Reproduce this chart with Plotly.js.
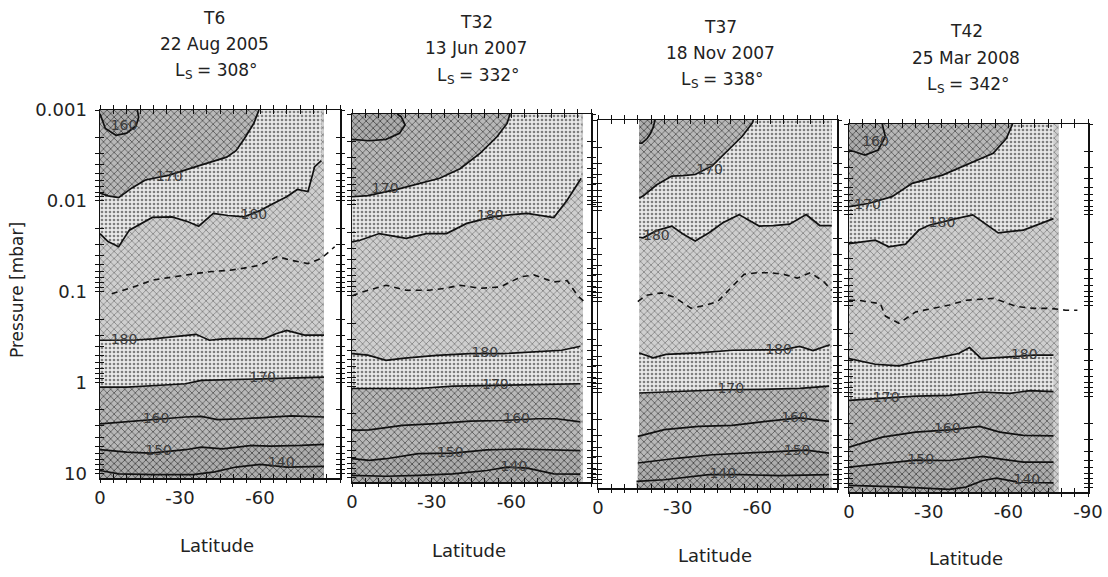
<!DOCTYPE html>
<html><head><meta charset="utf-8">
<script src="https://cdn.plot.ly/plotly-3.0.1.min.js"></script>
<style>html,body{margin:0;padding:0;background:#fff}</style>
</head><body><div id="chart" style="width:1108px;height:577px"></div>
<script>
// ---------------- DATA ----------------
const panelNames = ['T6', 'T32', 'T37', 'T42'];
const panelDates = ['22 Aug 2005', '13 Jun 2007', '18 Nov 2007', '25 Mar 2008'];
const panelLs = [308, 332, 338, 342];
const latTickLabels = [0, -30, -60, -90];
const pressureTickLabels = [0.001, 0.01, 0.1, 1, 10];
const dataLatExtent = [[0, -84], [0, -87], [-15.5, -88], [0, -79]];

// isotherms: [latitude (deg), pressure (mbar)]
const T6_loop160 = [[0,0.0011],[-2,0.0016],[-6,0.0019],[-10,0.0018],[-13.5,0.0015],[-14.5,0.0012],[-14,0.001]];
const T6_up170 = [[0,0.0082],[-3,0.0088],[-7,0.0092],[-12,0.0072],[-17,0.0059],[-26,0.0052],[-36,0.0042],[-47.5,0.0033],[-51,0.0028],[-54,0.0021],[-57.7,0.0014],[-59.6,0.001]];
const T6_up180 = [[0,0.023],[-3,0.028],[-7,0.032],[-11,0.021],[-19.6,0.0152],[-27,0.015],[-33,0.017],[-37,0.019],[-42.5,0.0137],[-48,0.0145],[-54,0.015],[-60,0.0128],[-65,0.0107],[-70,0.009],[-74,0.0075],[-78,0.0079],[-80.5,0.0042],[-83,0.0036]];
const T6_dash190 = [[-4.4,0.105],[-12,0.09],[-19.6,0.0746],[-28,0.068],[-36,0.063],[-42,0.06],[-48.8,0.058],[-54,0.055],[-60,0.051],[-66.5,0.041],[-71.6,0.045],[-78,0.049],[-83,0.043],[-88,0.032]];
const T6_low180 = [[0,0.342],[-13,0.34],[-20,0.33],[-27,0.315],[-33,0.3],[-36,0.294],[-41,0.342],[-46,0.33],[-51,0.327],[-61.5,0.33],[-66,0.29],[-70,0.266],[-76.7,0.3],[-84,0.3]];
const T6_low170 = [[0,1.12],[-10,1.12],[-22.6,1.07],[-32,1.03],[-38,0.944],[-51,0.93],[-63.6,0.906],[-84,0.87]];
const T6_low160 = [[0,2.84],[-10,2.7],[-22.6,2.49],[-32,2.39],[-38,2.35],[-44,2.56],[-53,2.5],[-64,2.39],[-72,2.33],[-84,2.39]];
const T6_low150 = [[0,5.48],[-10,5.83],[-19,5.98],[-32,5.48],[-38,5.13],[-46,5.36],[-57,4.92],[-64,5.0],[-75.5,4.92],[-84,4.79]];
const T6_low140 = [[0,9.27],[-7,10.1],[-20,10.3],[-35,10.3],[-43,9.6],[-51,8.5],[-60,7.94],[-70,8.5],[-84,8.37]];
const T6_labels = [[-9,0.0015,'160'],[-26,0.0055,'170'],[-57.7,0.0145,'180'],[-9,0.34,'180'],[-61,0.9,'170'],[-21,2.55,'160'],[-22,5.7,'150'],[-68,7.7,'140']];

const T32_loop160 = [[0,0.0019],[-6.5,0.00197],[-12.8,0.0019],[-17.9,0.00163],[-20,0.00132],[-18.5,0.00107],[-17,0.001]];
const T32_up170 = [[0,0.00814],[-6,0.0079],[-16.6,0.0068],[-25.5,0.0058],[-33,0.0051],[-40.7,0.004],[-48.3,0.0027],[-54.6,0.00178],[-58.4,0.00127],[-59.5,0.001]];
const T32_up180 = [[0,0.0255],[-3,0.0245],[-10.3,0.0207],[-15,0.022],[-20.4,0.0234],[-28,0.0207],[-35.6,0.0207],[-43.2,0.016],[-53.4,0.0135],[-60,0.0128],[-66,0.0124],[-76,0.0138],[-81,0.0089],[-86.3,0.0051]];
const T32_dash190 = [[0,0.1],[-3.9,0.091],[-12.8,0.0766],[-20.4,0.087],[-29,0.087],[-35,0.083],[-40.7,0.0766],[-48.3,0.083],[-55.9,0.08],[-63.5,0.062],[-68.5,0.059],[-76,0.0705],[-81,0.068],[-85,0.1],[-88,0.12]];
const T32_low180 = [[0,0.434],[-6,0.45],[-12.8,0.514],[-19,0.49],[-31.8,0.453],[-44.5,0.434],[-57,0.434],[-69.8,0.416],[-79,0.398],[-86,0.36]];
const T32_low170 = [[0,1.05],[-12.8,1.05],[-25,1.05],[-38,0.99],[-57,0.97],[-70,0.96],[-86,0.93]];
const T32_low160 = [[0,3.03],[-6.5,3.0],[-19,2.67],[-31.8,2.56],[-44.5,2.4],[-57,2.36],[-69.8,2.26],[-77,2.26],[-86,2.45]];
const T32_low150 = [[0,6.22],[-6.5,6.5],[-12.8,6.22],[-25,5.48],[-38,5.4],[-50.8,4.96],[-63.5,4.86],[-76,4.96],[-86,5.06]];
const T32_low140 = [[0,9.5],[-12.8,9.7],[-25,9.5],[-38,9.12],[-50.8,8.38],[-58.4,7.7],[-66,7.9],[-76,9.12],[-86,9.2]];
const T32_labels = [[-12.5,0.0068,'170'],[-52,0.0135,'180'],[-50,0.43,'180'],[-54,0.97,'170'],[-62,2.3,'160'],[-37,5.4,'150'],[-61,7.7,'140']];

const T37_loop160 = [[-21.5,0.001],[-20.8,0.0012],[-19.8,0.0014],[-18.5,0.0016],[-16.5,0.0018],[-15.5,0.0018]];
const T37_up170 = [[-15.5,0.0072],[-17,0.00687],[-22,0.0052],[-27.8,0.00414],[-32,0.0041],[-36.6,0.00398],[-43,0.0032],[-49.3,0.0021],[-54.4,0.0015],[-58.2,0.00107],[-58.5,0.001]];
const T37_up180 = [[-15.5,0.0195],[-17,0.0198],[-22,0.0165],[-27.8,0.0147],[-32,0.018],[-36.6,0.0215],[-41.8,0.0174],[-47,0.0135],[-53.1,0.011],[-60.7,0.0147],[-66,0.0145],[-72.1,0.014],[-78.4,0.011],[-83.5,0.0145],[-88,0.0145]];
const T37_dash190 = [[-15,0.1],[-18,0.085],[-24,0.08],[-29,0.09],[-35,0.118],[-40,0.11],[-45,0.1],[-50,0.07],[-55,0.05],[-60,0.048],[-65,0.048],[-70,0.05],[-75,0.055],[-80,0.048],[-85,0.06],[-88,0.075]];
const T37_low180 = [[-15.5,0.366],[-20.8,0.415],[-25.6,0.38],[-37.9,0.366],[-50.6,0.342],[-62,0.337],[-70,0.337],[-75.9,0.31],[-81,0.345],[-87.3,0.297]];
const T37_low170 = [[-15.5,1.01],[-30,0.98],[-46.8,0.93],[-62,0.92],[-76,0.9],[-87,0.85]];
const T37_low160 = [[-15,3.03],[-25,2.56],[-37.9,2.35],[-50.6,2.3],[-63.2,2.07],[-75.9,1.9],[-87,2.07]];
const T37_low150 = [[-15,5.96],[-30.4,5.25],[-43,4.83],[-55.7,4.63],[-68.4,4.43],[-78.5,4.3],[-87,4.63]];
const T37_low140 = [[-14.5,9.5],[-25,9.1],[-41.8,8.0],[-54,8.0],[-68.4,8.2],[-87,8.0]];
const T37_labels = [[-42,0.0036,'170'],[-22,0.019,'180'],[-68,0.34,'180'],[-50,0.93,'170'],[-74,1.95,'160'],[-75,4.4,'150'],[-47,8.0,'140']];

const T42_loop160 = [[0,0.00193],[-6,0.0022],[-11,0.00193],[-13.7,0.00138],[-12.5,0.001]];
const T42_up170 = [[0,0.0081],[-7.3,0.0075],[-16.2,0.0063],[-23.8,0.0045],[-35.2,0.00365],[-44,0.00283],[-54.3,0.0021],[-59.3,0.00144],[-61.6,0.001]];
const T42_up180 = [[0,0.0207],[-9.9,0.019],[-15,0.0225],[-21.3,0.021],[-26.3,0.0147],[-30.2,0.013],[-40.3,0.011],[-46.6,0.01],[-56.2,0.0158],[-65.7,0.0147],[-77,0.011]];
const T42_dash190 = [[0,0.087],[-3.5,0.087],[-11.8,0.095],[-13.7,0.13],[-18.8,0.156],[-25.1,0.117],[-31.5,0.107],[-37.8,0.098],[-44.2,0.087],[-54.4,0.083],[-63.2,0.102],[-69.6,0.107],[-75.9,0.107],[-81.6,0.112],[-86,0.112]];
const T42_low180 = [[0,0.382],[-9.9,0.441],[-18.8,0.46],[-25,0.416],[-35,0.366],[-41.3,0.336],[-45.4,0.289],[-49.8,0.382],[-60.6,0.366],[-69.6,0.35],[-77,0.35]];
const T42_low170 = [[0,1.1],[-12.5,1.05],[-25,0.99],[-37.8,0.97],[-50.4,0.89],[-60.6,0.92],[-68.2,0.86],[-77,0.88]];
const T42_low160 = [[0,3.6],[-12.5,2.79],[-25,2.46],[-37.8,2.32],[-49.2,2.13],[-56.8,2.46],[-65.7,2.67],[-77,2.7]];
const T42_low150 = [[0,5.97],[-12.5,5.48],[-25,5.0],[-37.8,5.05],[-50.4,4.55],[-58,4.9],[-65.7,5.25],[-77,5.25]];
const T42_low140 = [[0,9.5],[-18.8,9.85],[-37.8,10.5],[-44,9.9],[-50.4,8.38],[-55.5,7.89],[-63.2,8.7],[-77,8.9]];
const T42_labels = [[-10,0.0016,'160'],[-7,0.0078,'170'],[-35,0.0123,'180'],[-66,0.35,'180'],[-14,1.05,'170'],[-37,2.3,'160'],[-27,5.0,'150'],[-67,8.3,'140']];

// ---------------- BUILD ----------------
const panels = [
  {loop:T6_loop160, u170:T6_up170, u180:T6_up180, d190:T6_dash190, l180:T6_low180, l170:T6_low170, l160:T6_low160, l150:T6_low150, l140:T6_low140, labels:T6_labels},
  {loop:T32_loop160, u170:T32_up170, u180:T32_up180, d190:T32_dash190, l180:T32_low180, l170:T32_low170, l160:T32_low160, l150:T32_low150, l140:T32_low140, labels:T32_labels},
  {loop:T37_loop160, u170:T37_up170, u180:T37_up180, d190:T37_dash190, l180:T37_low180, l170:T37_low170, l160:T37_low160, l150:T37_low150, l140:T37_low140, labels:T37_labels},
  {loop:T42_loop160, u170:T42_up170, u180:T42_up180, d190:T42_dash190, l180:T42_low180, l170:T42_low170, l160:T42_low160, l150:T42_low150, l140:T42_low140, labels:T42_labels}
];

const W = 1108, H = 577;
const geom = [
  {x0:100, x1:340, top:110, bot:478, latY:545, tY:[18,44,70], tcx:214},
  {x0:352, x1:591, top:114, bot:482, latY:550, tY:[22,48,75], tcx:476},
  {x0:598, x1:837, top:120, bot:488, latY:555, tY:[27,53,79], tcx:720},
  {x0:849, x1:1088, top:124, bot:492, latY:558, tY:[31,58,84], tcx:966}
];
const logTop = -3, logBot = 1.05;
const pTop = Math.pow(10, logTop), pBot = Math.pow(10, logBot);
const FONT = 'DejaVu Sans, Verdana, sans-serif';

const xMinorVals = []; for (let v = 0; v >= -90; v -= 5) xMinorVals.push(v);
const yMinorVals = [];
for (let d = -3; d <= 1; d++) for (let m = 1; m <= 9; m++) { const v = m * Math.pow(10, d); if (v <= pBot * 1.0001) yMinorVals.push(v); }

const tones = {
  dark:   {fill:'#b8b8b8', fg:'#4e4e4e', shape:'x', size:5, sol:0.28},
  darker: {fill:'#adadad', fg:'#444', shape:'x', size:5, sol:0.3},
  medium: {fill:'#cfcfcf', fg:'#646464', shape:'x', size:5, sol:0.22},
  light:  {fill:'#e9e9e9', fg:'#7e7e7e', shape:'.', size:4, sol:0.35}
};

function fillTrace(xs, ys, tone, ax) {
  const t = tones[tone];
  return {type:'scatter', x:xs, y:ys, xaxis:ax.x, yaxis:ax.y, mode:'lines', line:{width:0, color:t.fill},
    fill:'toself', fillcolor:t.fill,
    fillpattern:{shape:t.shape, bgcolor:t.fill, fgcolor:t.fg, size:t.size, solidity:t.sol},
    hoverinfo:'skip', showlegend:false};
}
function regionTrace(pts, pEdge, tone, ax) {
  const xs = pts.map(p => p[0]), ys = pts.map(p => p[1]);
  xs.push(pts[pts.length-1][0], pts[0][0]); ys.push(pEdge, pEdge);
  return fillTrace(xs, ys, tone, ax);
}
function lineTrace(pts, ax, dashed) {
  return {type:'scatter', x:pts.map(p => p[0]), y:pts.map(p => p[1]), xaxis:ax.x, yaxis:ax.y, mode:'lines',
    line:{color:'#111', width:dashed ? 1.6 : 1.7, dash:dashed ? '6px,5px' : 'solid', shape:'linear'},
    hoverinfo:'skip', showlegend:false};
}

const traces = [];
const layout = {width:W, height:H, margin:{l:0, r:0, t:0, b:0}, paper_bgcolor:'#fff', plot_bgcolor:'rgba(0,0,0,0)',
  showlegend:false, font:{family:FONT, color:'#222', size:16}, annotations:[]};

function ann(xpx, ypx, text, size, anchor, extra) {
  return Object.assign({xref:'paper', yref:'paper', x:xpx / W, y:1 - ypx / H, text:text, showarrow:false,
    xanchor:anchor, yanchor:'middle', font:{family:FONT, size:size, color:'#222'}}, extra || {});
}

panels.forEach((P, i) => {
  const n = i + 1, g = geom[i];
  const sx = n === 1 ? '' : String(n), so = String(n + 4);
  const ax = {x:'x' + sx, y:'y' + sx};
  const axo = {x:'x' + so, y:'y' + so};
  const ext = dataLatExtent[i];

  // shaded regions (painter's order)
  traces.push(fillTrace([ext[0], ext[1], ext[1], ext[0]], [pTop, pTop, pBot, pBot], 'medium', ax));
  traces.push(regionTrace(P.u180, pTop, 'light', ax));
  traces.push(regionTrace(P.u170, pTop, 'dark', ax));
  traces.push(regionTrace(P.loop, pTop, 'darker', ax));
  traces.push(regionTrace(P.l180, pBot, 'light', ax));
  traces.push(regionTrace(P.l170, pBot, 'dark', ax));
  traces.push(regionTrace(P.l160, pBot, 'dark', ax));
  traces.push(regionTrace(P.l150, pBot, 'darker', ax));
  traces.push(regionTrace(P.l140, pBot, 'darker', ax));

  // contour lines on overlay axes
  [P.loop, P.u170, P.u180, P.l180, P.l170, P.l160, P.l150, P.l140].forEach(c => traces.push(lineTrace(c, axo, false)));
  traces.push(lineTrace(P.d190, axo, true));
  traces.push({type:'scatter', mode:'text', x:P.labels.map(l => l[0]), y:P.labels.map(l => l[1]), text:P.labels.map(l => l[2]),
    textfont:{family:FONT, size:14, color:'#3c3c3c'}, xaxis:axo.x, yaxis:axo.y, hoverinfo:'skip', showlegend:false});

  const xMajor = latTickLabels.filter(v => v !== -90 || n === 4);
  const xdom = [g.x0 / W, g.x1 / W], ydom = [1 - g.bot / H, 1 - g.top / H];
  const common = {showgrid:false, zeroline:false, fixedrange:true, tickcolor:'#111', tickwidth:1, ticklen:4, tickmode:'array'};
  const tfont = {family:FONT, size:18, color:'#222'};

  layout['xaxis' + sx] = Object.assign({}, common, {domain:xdom, range:[0, -90], anchor:ax.y,
    tickvals:xMajor, ticktext:xMajor.map(String),
    minor:{tickmode:'array', tickvals:xMinorVals, ticks:'inside', ticklen:4, tickcolor:'#111', showgrid:false},
    ticks:'inside', mirror:'ticks', showline:true, linecolor:'#111', linewidth:1.5,
    tickfont:tfont, ticklabelstandoff:3});
  layout['yaxis' + sx] = Object.assign({}, common, {domain:ydom, type:'log', range:[logBot, logTop], anchor:ax.x,
    tickvals:pressureTickLabels, ticktext:pressureTickLabels.map(String), showticklabels:n === 1,
    minor:{tickmode:'array', tickvals:yMinorVals, ticks:'inside', ticklen:4, tickcolor:'#111', showgrid:false},
    ticks:'inside', mirror:'ticks', showline:true, linecolor:'#111', linewidth:1.5,
    tickfont:tfont, ticklabelstandoff:8});
  layout['xaxis' + so] = Object.assign({}, common, {domain:xdom, range:[0, -90], anchor:axo.y, overlaying:ax.x,
    tickvals:xMinorVals, ticks:'outside', mirror:'ticks', showline:false, showticklabels:false});
  layout['yaxis' + so] = Object.assign({}, common, {domain:ydom, type:'log', range:[logBot, logTop], anchor:axo.x, overlaying:ax.y,
    tickvals:yMinorVals, ticks:'outside', mirror:'ticks', showline:false, showticklabels:false});

  // panel titles
  layout.annotations.push(ann(g.tcx, g.tY[0], panelNames[i], 17, 'center'));
  layout.annotations.push(ann(g.tcx, g.tY[1], panelDates[i], 17, 'center'));
  // "L" + subscript "S" + "= value°", placed side by side
  const lW = 9.5, sW = 7.8, gap = 5, restW = 60.6;
  const x0 = g.tcx - (lW + sW + gap + restW) / 2;
  layout.annotations.push(ann(x0, g.tY[2], 'L', 17, 'left'));
  layout.annotations.push(ann(x0 + lW + 0.5, g.tY[2] + 5, 'S', 12, 'left'));
  layout.annotations.push(ann(x0 + lW + sW + gap, g.tY[2], '= ' + panelLs[i] + '°', 17, 'left'));

  layout.annotations.push(ann((g.x0 + g.x1) / 2 - 3, g.latY, 'Latitude', 18, 'center'));
});

layout.annotations.push(ann(17, 290, 'Pressure [mbar]', 17, 'center', {textangle:-90}));

Plotly.newPlot('chart', traces, layout, {staticPlot:true, displayModeBar:false});
</script>
</body></html>
